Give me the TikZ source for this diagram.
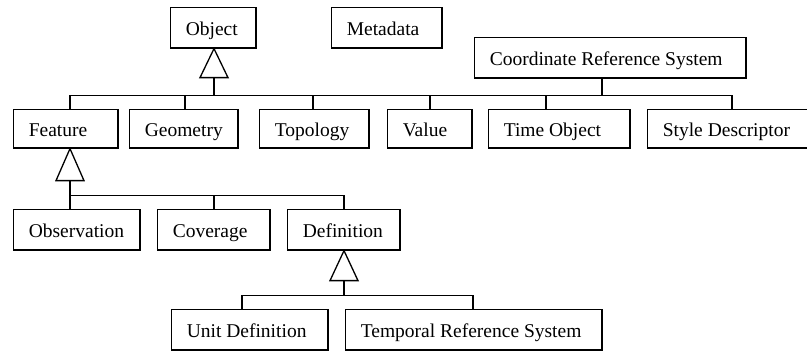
\documentclass[tikz,border=0pt]{standalone}
\usepackage{fontspec}
\setmainfont{Liberation Serif}
\usetikzlibrary{calc}

% class box: name, left, top, right, bottom, label
\newcommand\umlbox[6]{%
  \pgfmathsetmacro\bw{#4-#2-1.3-31}%
  \pgfmathsetmacro\bh{#5-#3-1.3}%
  \node[cls, minimum height=\bh pt] (#1) at (#2+0.65,#3+0.65)
    {\makebox[\bw pt][l]{#6}};}

\begin{document}
\begin{tikzpicture}[x=1pt,y=-1pt,
  cls/.style={draw, line width=1.3pt, inner xsep=15.5pt, inner ysep=0pt,
    anchor=north west, text height=16pt, text depth=0pt,
    font=\fontsize{19.5}{24}\selectfont},
  link/.style={line width=1.3pt, line join=miter},
  gen/.style={line width=1.3pt, line join=miter, fill=white}]
\useasboundingbox (0,0) rectangle (807,352);

% classes
\umlbox{obj}{169}{6}{256}{48}{Object}
\umlbox{meta}{330}{6}{442}{48}{Metadata}
\umlbox{crs}{473}{36}{746}{78}{Coordinate Reference System}
\umlbox{feat}{12}{108}{118}{148}{Feature}
\umlbox{geom}{128}{108}{238}{148}{Geometry}
\umlbox{topo}{258}{108}{369}{148}{Topology}
\umlbox{val}{386}{108}{472}{148}{Value}
\umlbox{tobj}{487}{108}{630}{148}{Time Object}
\umlbox{style}{646}{108}{812}{148}{Style Descriptor}
\umlbox{obs}{12}{208}{140}{250}{Observation}
\umlbox{cov}{156}{208}{270}{250}{Coverage}
\umlbox{defn}{286}{208}{400}{250}{Definition}
\umlbox{unit}{170}{308}{328}{350}{Unit Definition}
\umlbox{trs}{344}{308}{602}{350}{Temporal Reference System}

% attachment points on box edges
\coordinate (dFeat) at ($(feat.north west)+(57.35,0)$);
\coordinate (dGeom) at ($(geom.north west)+(56.35,0)$);
\coordinate (dTopo) at ($(topo.north west)+(54.35,0)$);
\coordinate (dVal)  at ($(val.north west)+(43.35,0)$);
\coordinate (dTobj) at ($(tobj.north west)+(58.35,0)$);
\coordinate (dStyle) at ($(style.north west)+(85.35,0)$);
\coordinate (dObs)  at ($(obs.north west)+(57.35,0)$);
\coordinate (dCov)  at ($(cov.north west)+(57.35,0)$);
\coordinate (dDefn) at ($(defn.north west)+(57.35,0)$);
\coordinate (dUnit) at ($(unit.north west)+(71.35,0)$);
\coordinate (dTrs)  at ($(trs.north west)+(128.35,0)$);
\coordinate (tObj)  at ($(obj.south west)+(44.35,0)$);
\coordinate (tCrs)  at ($(crs.south west)+(128.35,0)$);
\coordinate (tFeat) at ($(feat.south west)+(57.35,0)$);
\coordinate (tDefn) at ($(defn.south west)+(57.35,0)$);

% Object and Coordinate Reference System to the second row
\draw[gen] (tObj) -- ++(-14,29) -- ++(28,0) -- cycle;
\coordinate (busA) at ($(tObj)+(0,46.65)$);
\draw[link] ($(tObj)+(0,29)$) -- (busA);
\draw[link] (dFeat) |- (dStyle |- busA) -- (dStyle);
\draw[link] (tCrs) -- (tCrs |- busA);
\foreach \d in {dGeom,dTopo,dVal,dTobj}
  \draw[link] (\d) -- (\d |- busA);

% Feature to the third row
\draw[gen] (tFeat) -- ++(-14,32) -- ++(28,0) -- cycle;
\coordinate (busB) at ($(tFeat)+(0,46.65)$);
\draw[link] ($(tFeat)+(0,32)$) -- (busB);
\draw[link] (dObs) -- (dObs |- busB) -| (dDefn);
\draw[link] (dCov) -- (dCov |- busB);

% Definition to the fourth row
\draw[gen] (tDefn) -- ++(-14,30) -- ++(28,0) -- cycle;
\coordinate (busC) at ($(tDefn)+(0,44.65)$);
\draw[link] ($(tDefn)+(0,30)$) -- (busC);
\draw[link] (dUnit) |- (dTrs |- busC) -- (dTrs);
\end{tikzpicture}
\end{document}
